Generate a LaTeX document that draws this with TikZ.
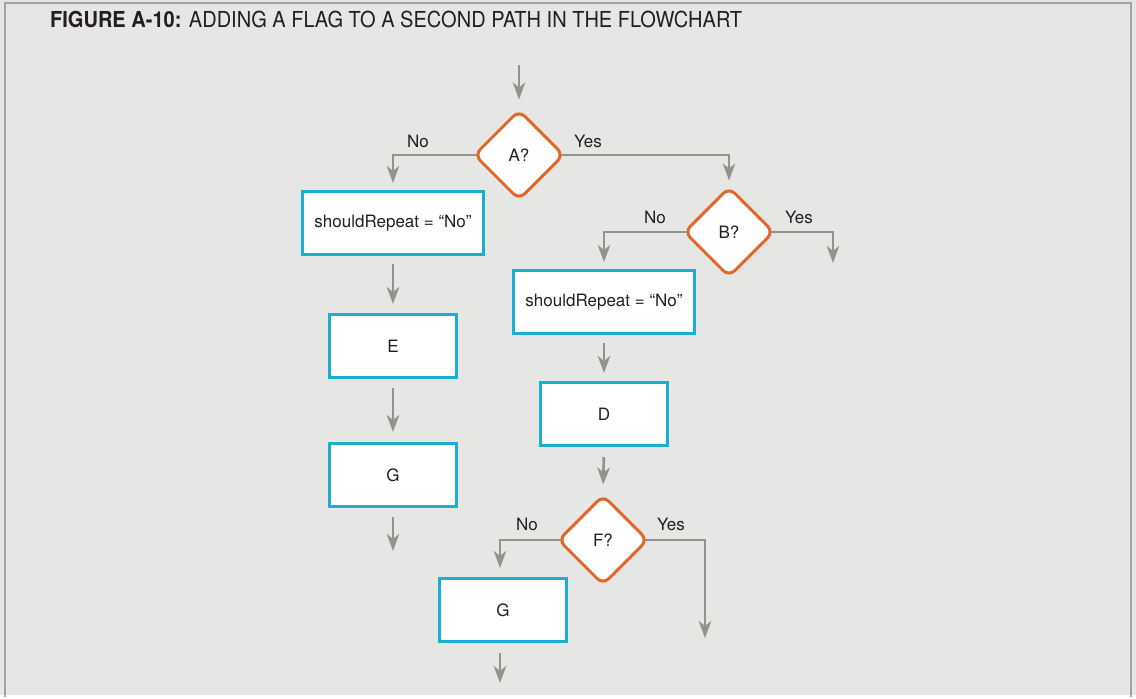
\documentclass[tikz,border=0pt]{standalone}
\usepackage{fontspec}
\setmainfont{TeX Gyre Heros}
\newfontfamily\titlefont{TeX Gyre Heros}[FakeStretch=0.91]
\usetikzlibrary{shapes.geometric,arrows.meta}
\pgfdeclarelayer{bglayer}
\pgfdeclarelayer{edgelayer}
\pgfsetlayers{bglayer,edgelayer,main}
\definecolor{bgc}{HTML}{E6E6E4}
\definecolor{framec}{HTML}{A3A3A0}
\definecolor{arrc}{HTML}{93938D}
\definecolor{boxc}{HTML}{1AAED3}
\definecolor{decc}{HTML}{E0692A}
\definecolor{txtc}{HTML}{231F20}
\tikzset{
  procbox/.style={draw=boxc, line width=3pt, fill=white, minimum width=#1, minimum height=63pt, inner sep=0pt, font=\fontsize{17}{20}\selectfont, text=txtc},
  procbox/.default=127pt,
  decbox/.style={draw=decc, line width=3pt, fill=white, diamond, minimum width=90pt, minimum height=90pt, inner sep=0pt, rounded corners=8pt, font=\fontsize{17}{20}\selectfont, text=txtc},
  flow/.style={draw=arrc, line width=2.7pt, -{Stealth[length=17pt,width=12.5pt,inset=5pt]}},
  lbl/.style={font=\fontsize{17}{20}\selectfont, text=txtc},
}
\begin{document}
\begin{tikzpicture}[x=1pt,y=-1pt]
\begin{pgfonlayer}{bglayer}
\fill[bgc] (0,0) rectangle (1136,695);
\draw[framec, line width=2.5pt] (5,697) -- (5,3) -- (1131,3) -- (1131,697);
\end{pgfonlayer}
\useasboundingbox (0,0) rectangle (1136,695);
\node[anchor=base west, text=txtc, font=\titlefont\fontsize{22}{26}\selectfont, inner sep=0pt] (title) at (50,28) {\textbf{FIGURE A-10:} ADDING A FLAG TO A SECOND PATH IN THE FLOWCHART};

% nodes
\node[decbox] (A) at (519,155) {A?};
\node[decbox] (B) at (729,232) {B?};
\node[decbox] (F) at (603,540) {F?};
\node[procbox=181pt] (S1) at (393,223) {shouldRepeat = “No”};
\node[procbox] (E) at (393,346) {E};
\node[procbox] (G1) at (393,475) {G};
\node[procbox=181pt] (S2) at (604,302) {shouldRepeat = “No”};
\node[procbox] (D) at (604,414) {D};
\node[procbox] (G2) at (503,610) {G};

% free ends
\coordinate (start) at (519,65);
\coordinate (g1end) at (393,551);
\coordinate (byes) at (833,263);
\coordinate (fyes) at (705,638);
\coordinate (g2end) at (500,683);

% connectors
\begin{pgfonlayer}{edgelayer}
\draw[flow, shorten >=9pt] (start) -- (A.north);
\draw[flow, shorten >=7pt] (A.center) -| (S1.north);
\draw[flow, shorten >=5pt] (A.center) -| (B.north);
\draw[flow, shorten <=8pt, shorten >=9pt] (S1.south) -- (E.north);
\draw[flow, shorten <=9pt, shorten >=10pt] (E.south) -- (G1.north);
\draw[flow, shorten <=9pt] (G1.south) -- (g1end);
\draw[flow, shorten >=7pt] (B.center) -| (S2.north);
\draw[flow] (B.center) -| (byes);
\draw[flow, shorten <=8pt, shorten >=8pt] (S2.south) -- (D.north);
\draw[flow, shorten <=10pt, shorten >=9pt] (D.south) -- (F.north);
\draw[flow, shorten >=9pt] (F.center) -| ([xshift=-3pt]G2.north);
\draw[flow] (F.center) -| (fyes);
\draw[flow, shorten <=10pt] (G2.south -| g2end) -- (g2end);
\end{pgfonlayer}

% labels
\node[lbl] (noA) at (418,141) {No};
\node[lbl] (yesA) at (588,141) {Yes};
\node[lbl] (noB) at (655,217) {No};
\node[lbl] (yesB) at (799,217) {Yes};
\node[lbl] (noF) at (527,524) {No};
\node[lbl] (yesF) at (671,524) {Yes};
\end{tikzpicture}
\end{document}
